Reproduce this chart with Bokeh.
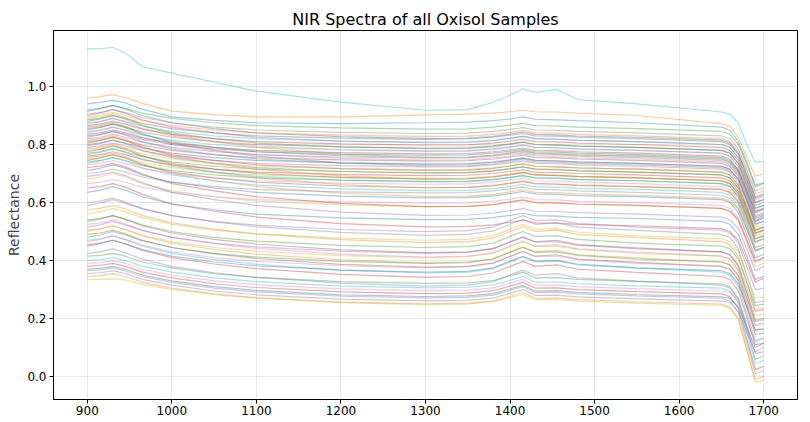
from bokeh.plotting import figure
from bokeh.models import Range1d, FixedTicker, PrintfTickFormatter
from bokeh.embed import file_html
from bokeh.resources import INLINE

wavelengths = [900, 915, 930, 945, 965, 1000, 1050, 1100, 1200, 1300, 1350, 1380,
               1400, 1415, 1430, 1455, 1480, 1550, 1650, 1660, 1670, 1680, 1690, 1700]

# Highest spectra: outlier (cyan), orange, blue
top_samples = [
    [1.130, 1.130, 1.135, 1.115, 1.068, 1.046, 1.015, 0.984, 0.946, 0.918, 0.920, 0.945, 0.970, 0.992, 0.980, 0.990, 0.955, 0.940, 0.912, 0.905, 0.875, 0.800, 0.738, 0.742],
    [0.960, 0.965, 0.972, 0.962, 0.942, 0.915, 0.903, 0.895, 0.895, 0.902, 0.905, 0.908, 0.913, 0.918, 0.913, 0.912, 0.908, 0.900, 0.872, 0.862, 0.825, 0.755, 0.690, 0.700],
    [0.940, 0.945, 0.952, 0.943, 0.922, 0.895, 0.883, 0.875, 0.872, 0.875, 0.877, 0.882, 0.888, 0.895, 0.887, 0.885, 0.882, 0.875, 0.860, 0.850, 0.810, 0.740, 0.660, 0.668],
]

upper_band = [
    [.920, .925, .935, .925, .908, .890, .875, .865, .857, .853, .854, .860, .867, .873, .865, .864, .860, .855, .845, .835, .800, .730, .655, .665],
    [.915, .923, .935, .923, .900, .875, .855, .840, .827, .821, .822, .828, .836, .843, .835, .833, .829, .825, .815, .805, .770, .695, .615, .625],
    [.905, .910, .920, .910, .893, .875, .860, .850, .842, .838, .839, .845, .852, .858, .850, .849, .845, .840, .830, .820, .785, .715, .640, .650],
    [.900, .908, .920, .908, .885, .860, .840, .825, .812, .806, .807, .813, .821, .828, .820, .818, .814, .810, .800, .790, .755, .680, .600, .610],
    [.895, .900, .910, .900, .883, .865, .850, .840, .832, .828, .829, .835, .842, .848, .840, .839, .835, .830, .820, .810, .775, .705, .630, .640],
    [.890, .895, .905, .893, .868, .835, .810, .790, .767, .756, .757, .763, .772, .779, .770, .769, .765, .760, .750, .740, .710, .640, .565, .580],
    [.885, .890, .900, .890, .873, .855, .840, .830, .822, .818, .819, .825, .832, .838, .830, .829, .825, .820, .810, .800, .765, .695, .620, .630],
    [.880, .888, .900, .888, .865, .840, .820, .805, .792, .786, .787, .793, .801, .808, .800, .798, .794, .790, .780, .770, .735, .660, .580, .590],
    [.875, .880, .890, .880, .863, .845, .830, .820, .812, .808, .809, .815, .822, .828, .820, .819, .815, .810, .800, .790, .755, .685, .610, .620],
    [.870, .878, .890, .878, .855, .830, .810, .795, .782, .776, .777, .783, .791, .798, .790, .788, .784, .780, .770, .760, .725, .650, .570, .580],
    [.865, .870, .880, .870, .853, .835, .820, .810, .802, .798, .799, .805, .812, .818, .810, .809, .805, .800, .790, .780, .745, .675, .600, .610],
    [.860, .865, .875, .863, .838, .805, .780, .760, .737, .726, .727, .733, .742, .749, .740, .739, .735, .730, .720, .710, .680, .610, .535, .550],
    [.855, .860, .870, .860, .843, .825, .810, .800, .792, .788, .789, .795, .802, .808, .800, .799, .795, .790, .780, .770, .735, .665, .590, .600],
    [.850, .858, .870, .858, .835, .810, .790, .775, .762, .756, .757, .763, .771, .778, .770, .768, .764, .760, .750, .740, .705, .630, .550, .560],
    [.845, .850, .860, .850, .833, .815, .800, .790, .782, .778, .779, .785, .792, .798, .790, .789, .785, .780, .770, .760, .725, .655, .580, .590],
    [.840, .848, .860, .848, .825, .800, .780, .765, .752, .746, .747, .753, .761, .768, .760, .758, .754, .750, .740, .730, .695, .620, .540, .550],
    [.835, .840, .850, .840, .823, .805, .790, .780, .772, .768, .769, .775, .782, .788, .780, .779, .775, .770, .760, .750, .715, .645, .570, .580],
    [.830, .835, .845, .835, .818, .800, .785, .775, .767, .763, .764, .770, .777, .783, .775, .774, .770, .765, .755, .745, .710, .640, .565, .575],
    [.825, .833, .845, .833, .810, .785, .765, .750, .737, .731, .732, .738, .746, .753, .745, .743, .739, .735, .725, .715, .680, .605, .525, .535],
    [.820, .825, .835, .825, .808, .790, .775, .765, .757, .753, .754, .760, .767, .773, .765, .764, .760, .755, .745, .735, .700, .630, .555, .565],
    [.815, .820, .830, .818, .793, .760, .735, .715, .692, .681, .682, .688, .697, .704, .695, .694, .690, .685, .675, .665, .635, .565, .490, .505],
    [.810, .815, .825, .815, .798, .780, .765, .755, .747, .743, .744, .750, .757, .763, .755, .754, .750, .745, .735, .725, .690, .620, .545, .555],
    [.805, .813, .825, .813, .790, .765, .745, .730, .717, .711, .712, .718, .726, .733, .725, .723, .719, .715, .705, .695, .660, .585, .505, .515],
    [.800, .805, .815, .805, .788, .770, .755, .745, .737, .733, .734, .740, .747, .753, .745, .744, .740, .735, .725, .715, .680, .610, .535, .545],
    [.795, .803, .815, .803, .780, .755, .735, .720, .707, .701, .702, .708, .716, .723, .715, .713, .709, .705, .695, .685, .650, .575, .495, .505],
    [.790, .795, .805, .795, .778, .760, .745, .735, .727, .723, .724, .730, .737, .743, .735, .734, .730, .725, .715, .705, .670, .600, .525, .535],
    [.785, .790, .800, .788, .763, .730, .705, .685, .662, .651, .652, .658, .667, .674, .665, .664, .660, .655, .645, .635, .605, .535, .460, .475],
    [.780, .785, .795, .785, .768, .750, .735, .725, .717, .713, .714, .720, .727, .733, .725, .724, .720, .715, .705, .695, .660, .590, .515, .525],
    [.775, .783, .795, .783, .760, .735, .715, .700, .687, .681, .682, .688, .696, .703, .695, .693, .689, .685, .675, .665, .630, .555, .475, .485],
    [.770, .775, .785, .775, .758, .740, .725, .715, .707, .703, .704, .710, .717, .723, .715, .714, .710, .705, .695, .685, .650, .580, .505, .515],
    [.765, .773, .785, .773, .750, .725, .705, .690, .677, .671, .672, .678, .686, .693, .685, .683, .679, .675, .665, .655, .620, .545, .465, .475],
    [.760, .765, .775, .765, .748, .730, .715, .705, .697, .693, .694, .700, .707, .713, .705, .704, .700, .695, .685, .675, .640, .570, .495, .505],
    [.755, .760, .770, .758, .733, .700, .675, .655, .632, .621, .622, .628, .637, .644, .635, .634, .630, .625, .615, .605, .575, .505, .430, .445],
    [.750, .755, .765, .755, .738, .720, .705, .695, .687, .683, .684, .690, .697, .703, .695, .694, .690, .685, .675, .665, .630, .560, .485, .495],
    [.745, .753, .765, .753, .730, .705, .685, .670, .657, .651, .652, .658, .666, .673, .665, .663, .659, .655, .645, .635, .600, .525, .445, .455],
    [.740, .745, .755, .745, .728, .710, .695, .685, .677, .673, .674, .680, .687, .693, .685, .684, .680, .675, .665, .655, .620, .550, .475, .485],
    [.735, .743, .755, .743, .720, .695, .675, .660, .647, .641, .642, .648, .656, .663, .655, .653, .649, .645, .635, .625, .590, .515, .435, .445],
    [.730, .735, .745, .735, .718, .700, .685, .675, .667, .663, .664, .670, .677, .683, .675, .674, .670, .665, .655, .645, .610, .540, .465, .475],
    [.720, .725, .735, .723, .698, .665, .640, .620, .597, .586, .587, .593, .602, .609, .600, .599, .595, .590, .580, .570, .540, .470, .395, .410],
    [.710, .718, .730, .718, .695, .670, .650, .635, .622, .616, .617, .623, .631, .638, .630, .628, .624, .620, .610, .600, .565, .490, .410, .420],
    [.700, .705, .715, .705, .688, .670, .655, .645, .637, .633, .634, .640, .647, .653, .645, .644, .640, .635, .625, .615, .580, .510, .435, .445],
    [.690, .695, .705, .693, .668, .635, .610, .590, .567, .556, .557, .563, .572, .579, .570, .569, .565, .560, .550, .540, .510, .440, .365, .380],
    [.680, .688, .700, .688, .665, .640, .620, .605, .592, .586, .587, .593, .601, .608, .600, .598, .594, .590, .580, .570, .535, .460, .380, .390],
    [.665, .670, .680, .670, .653, .635, .620, .610, .602, .598, .599, .605, .612, .618, .610, .609, .605, .600, .590, .580, .545, .475, .400, .410],
    [.650, .655, .665, .653, .628, .595, .570, .550, .527, .516, .517, .523, .532, .539, .530, .529, .525, .520, .510, .500, .470, .400, .325, .340],
    [.635, .643, .655, .643, .620, .595, .575, .560, .547, .541, .542, .548, .556, .563, .555, .553, .549, .545, .535, .525, .490, .415, .335, .345],
]

middle_band = [
    [.600, .605, .615, .602, .580, .555, .533, .517, .497, .487, .490, .502, .525, .542, .525, .530, .515, .504, .490, .480, .440, .350, .255, .260],
    [.590, .598, .610, .598, .578, .555, .535, .522, .507, .500, .503, .515, .538, .555, .538, .540, .528, .515, .505, .495, .460, .380, .300, .305],
    [.575, .580, .590, .577, .555, .530, .508, .492, .472, .462, .465, .477, .500, .517, .500, .505, .490, .479, .465, .455, .415, .325, .230, .235],
    [.560, .568, .580, .568, .548, .525, .505, .492, .477, .470, .473, .485, .508, .525, .508, .510, .498, .485, .475, .465, .430, .350, .270, .275],
    [.540, .545, .555, .542, .520, .495, .473, .457, .437, .427, .430, .442, .465, .482, .465, .470, .455, .444, .430, .420, .380, .290, .195, .200],
    [.535, .543, .555, .543, .523, .500, .480, .467, .452, .445, .448, .460, .483, .500, .483, .485, .473, .460, .450, .440, .405, .325, .245, .250],
    [.525, .530, .540, .527, .505, .480, .458, .442, .422, .412, .415, .427, .450, .467, .450, .455, .440, .429, .415, .405, .365, .275, .180, .185],
    [.515, .523, .535, .523, .503, .480, .460, .447, .432, .425, .428, .440, .463, .480, .463, .465, .453, .440, .430, .420, .385, .305, .225, .230],
    [.505, .510, .520, .507, .485, .460, .438, .422, .402, .392, .395, .407, .430, .447, .430, .435, .420, .409, .395, .385, .345, .255, .160, .165],
    [.500, .508, .520, .508, .488, .465, .445, .432, .417, .410, .413, .425, .448, .465, .448, .450, .438, .425, .415, .405, .370, .290, .210, .215],
    [.490, .495, .505, .492, .470, .445, .423, .407, .387, .377, .380, .392, .415, .432, .415, .420, .405, .394, .380, .370, .330, .240, .145, .150],
    [.480, .488, .500, .488, .468, .445, .425, .412, .397, .390, .393, .405, .428, .445, .428, .430, .418, .405, .395, .385, .350, .270, .190, .195],
    [.470, .475, .485, .472, .450, .425, .403, .387, .367, .357, .360, .372, .395, .412, .395, .400, .385, .374, .360, .350, .310, .220, .125, .130],
    [.465, .473, .485, .473, .453, .430, .410, .397, .382, .375, .378, .390, .413, .430, .413, .415, .403, .390, .380, .370, .335, .255, .175, .180],
    [.455, .460, .470, .457, .435, .410, .388, .372, .352, .342, .345, .357, .380, .397, .380, .385, .370, .359, .345, .335, .295, .205, .110, .115],
    [.450, .458, .470, .458, .438, .415, .395, .382, .367, .360, .363, .375, .398, .415, .398, .400, .388, .375, .365, .355, .320, .240, .160, .165],
    [.425, .430, .440, .427, .405, .380, .358, .342, .322, .312, .315, .327, .350, .367, .350, .355, .340, .329, .315, .305, .265, .175, .080, .085],
]

lower_band = [
    [.415, .418, .425, .415, .395, .375, .355, .342, .327, .321, .323, .331, .347, .360, .340, .341, .335, .328, .320, .310, .270, .165, .060, .070],
    [.400, .403, .410, .400, .380, .360, .340, .327, .312, .306, .308, .316, .332, .345, .325, .326, .320, .313, .305, .295, .255, .150, .045, .055],
    [.390, .393, .400, .390, .370, .350, .330, .317, .302, .296, .298, .306, .322, .335, .315, .316, .310, .303, .295, .290, .260, .190, .120, .135],
    [.380, .383, .390, .380, .360, .340, .320, .307, .292, .286, .288, .296, .312, .325, .305, .306, .300, .293, .285, .275, .235, .130, .025, .035],
    [.370, .373, .380, .370, .350, .330, .310, .297, .282, .276, .278, .286, .302, .315, .295, .296, .290, .283, .275, .270, .240, .170, .100, .115],
    [.365, .368, .375, .365, .345, .325, .305, .292, .277, .271, .273, .281, .297, .310, .290, .291, .285, .278, .270, .260, .220, .115, .010, .020],
    [.355, .358, .365, .355, .335, .315, .295, .282, .267, .261, .263, .271, .287, .300, .280, .281, .275, .268, .260, .255, .225, .155, .085, .100],
    [.345, .348, .355, .345, .325, .305, .285, .272, .257, .251, .253, .261, .277, .290, .270, .271, .265, .258, .250, .240, .200, .095, -.010, .000],
    [.335, .335, .337, .333, .318, .300, .282, .270, .255, .248, .250, .258, .272, .283, .265, .266, .260, .253, .245, .235, .195, .090, -.020, -.012],
]

x_ticks = [900, 1000, 1100, 1200, 1300, 1400, 1500, 1600, 1700]
y_ticks = [0.0, 0.2, 0.4, 0.6, 0.8, 1.0]

palette = ["#1f77b4", "#ff7f0e", "#2ca02c", "#d62728", "#9467bd",
           "#8c564b", "#e377c2", "#7f7f7f", "#bcbd22", "#17becf"]

rows = upper_band + middle_band + lower_band
n = len(rows)
ordered = [rows[(i * 31) % n] for i in range(n)]
ordered.insert(0, top_samples[2])
ordered.insert(1, top_samples[1])
ordered.insert(9, top_samples[0])

FONT = "DejaVu Sans"

p = figure(width=810, height=422, output_backend="svg", toolbar_location=None,
           x_range=Range1d(860, 1740), y_range=Range1d(-0.079, 1.193),
           title="NIR Spectra of all Oxisol Samples",
           min_border_left=53, min_border_right=13, min_border_top=30, min_border_bottom=23)

for k, row in enumerate(ordered):
    p.line(wavelengths, row, line_color=palette[k % 10], line_alpha=0.4, line_width=1.2)

p.title.align = "center"
p.title.text_font = FONT
p.title.text_font_size = "16px"
p.title.text_font_style = "normal"
p.title.text_color = "#000000"
p.title.standoff = 4

p.outline_line_color = "#000000"
p.outline_line_width = 1
p.outline_line_alpha = 1.0

p.xaxis.ticker = FixedTicker(ticks=x_ticks)
p.yaxis.ticker = FixedTicker(ticks=y_ticks)
p.yaxis.formatter = PrintfTickFormatter(format="%.1f")
p.yaxis.axis_label = "Reflectance"
p.yaxis.axis_label_text_font = FONT
p.yaxis.axis_label_text_font_size = "14px"
p.yaxis.axis_label_text_font_style = "normal"
p.yaxis.axis_label_standoff = 2

for ax in (p.xaxis, p.yaxis):
    ax.major_label_text_font = FONT
    ax.major_label_text_font_size = "12px"
    ax.major_label_text_color = "#000000"
    ax.major_label_standoff = 3
    ax.minor_tick_line_color = None
    ax.major_tick_in = 0
    ax.major_tick_out = 4
    ax.major_tick_line_color = "#000000"
    ax.axis_line_color = "#000000"

p.xaxis.major_label_standoff = 2

p.xgrid.grid_line_color = "#b0b0b0"
p.ygrid.grid_line_color = "#b0b0b0"
p.xgrid.grid_line_alpha = 0.3
p.ygrid.grid_line_alpha = 0.3

p.background_fill_color = "white"
p.border_fill_color = "white"

open("out.html", "w").write(file_html(p, INLINE))
